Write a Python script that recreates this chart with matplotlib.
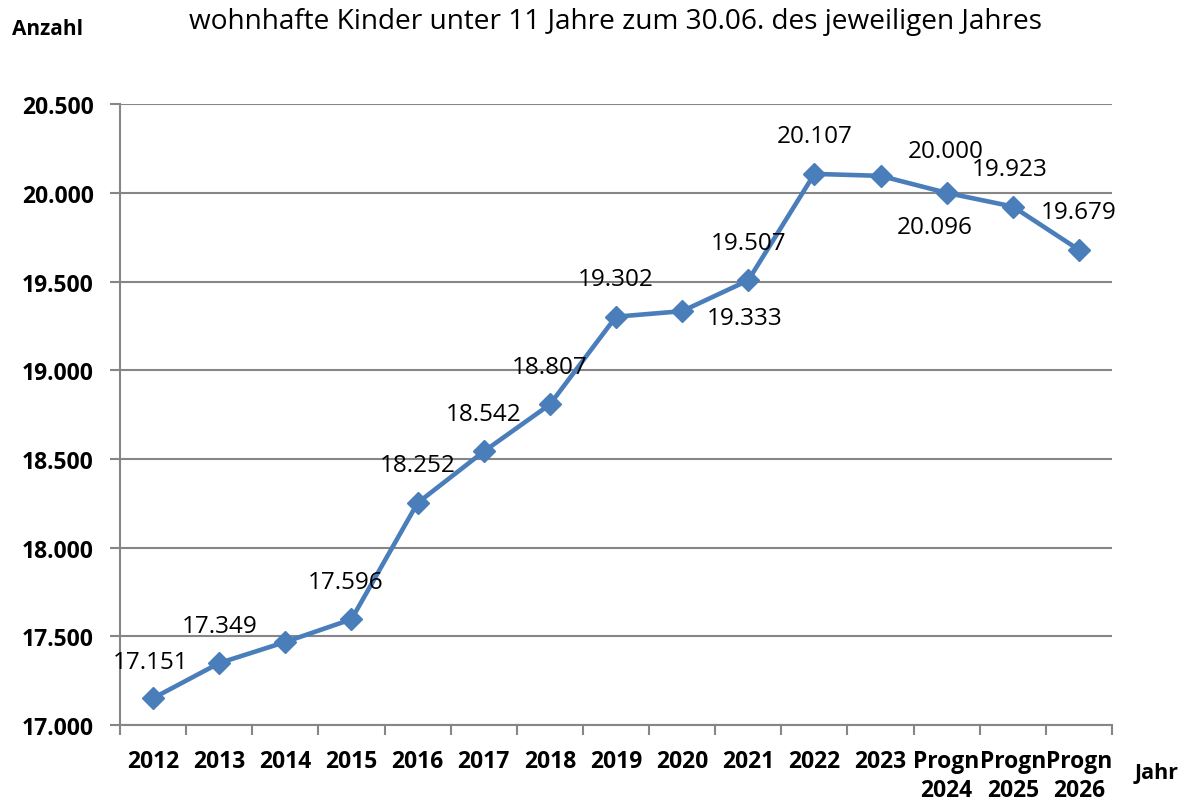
import matplotlib.pyplot as plt
from matplotlib.ticker import FixedLocator, FuncFormatter, NullFormatter

plt.rcParams["font.family"] = ["Open Sans", "DejaVu Sans"]

years = ["2012", "2013", "2014", "2015", "2016", "2017", "2018", "2019",
         "2020", "2021", "2022", "2023", "Progn\n2024", "Progn\n2025", "Progn\n2026"]
kinder = [17151, 17349, 17468, 17596, 18252, 18542, 18807, 19302,
          19333, 19507, 20107, 20096, 20000, 19923, 19679]
# label shown on the chart (2014 has none)
show_label = [True, True, False, True, True, True, True, True,
              True, True, True, True, True, True, True]
y_ticks = [17000, 17500, 18000, 18500, 19000, 19500, 20000, 20500]

# offsets in points (x, y) for the data labels
offsets = {i: (0, 27) for i in range(len(years))}
offsets[0] = (-2, 26)
offsets[3] = (-4, 27)
offsets[8] = (45, -5)
offsets[11] = (39, -37)
offsets[12] = (-1, 30)
offsets[13] = (-2, 27)


def fmt_de(v, pos=None):
    return f"{v:,.0f}".replace(",", ".")


def main():
    fig = plt.figure(figsize=(11.86, 8.03), dpi=100)
    ax = fig.add_axes([0.1012, 0.0959, 0.8364, 0.7731])

    x = list(range(len(years)))
    ax.plot(x, kinder, color="#4A7EBB", lw=3.3, marker="D", markersize=11,
            zorder=3, solid_joinstyle="round")

    for i, v in enumerate(kinder):
        if not show_label[i]:
            continue
        dx, dy = offsets[i]
        ax.annotate(fmt_de(v), (i, v), xytext=(dx, dy), textcoords="offset points",
                    ha="center", va="center", fontsize=17.5, color="black")

    ax.set_xlim(-0.5, len(years) - 0.5)
    ax.set_ylim(17000, 20500)

    ax.yaxis.set_major_locator(FixedLocator(y_ticks))
    ax.yaxis.set_major_formatter(FuncFormatter(fmt_de))
    ax.grid(axis="y", color="#868686", lw=1.5)
    ax.set_axisbelow(True)

    # category ticks on the boundaries, labels in the middle
    ax.xaxis.set_major_locator(FixedLocator([i - 0.5 for i in range(len(years) + 1)]))
    ax.xaxis.set_major_formatter(NullFormatter())
    ax.xaxis.set_minor_locator(FixedLocator(x))
    ax.set_xticklabels(years, minor=True)
    ax.tick_params(axis="x", which="major", length=7, width=1.5, color="#868686")
    ax.tick_params(axis="x", which="minor", length=0, pad=17, labelsize=16.5)
    ax.tick_params(axis="y", length=7, width=1.5, color="#868686", labelsize=16.5, pad=12)
    for lab in ax.get_xticklabels(minor=True) + ax.get_yticklabels():
        lab.set_fontweight("bold")
    for lab in ax.get_xticklabels(minor=True):
        lab.set_linespacing(1.3)

    for side in ["top", "right"]:
        ax.spines[side].set_visible(False)
    for side in ["left", "bottom"]:
        ax.spines[side].set_color("#868686")
        ax.spines[side].set_linewidth(1.5)

    fig.text(0.5186, 0.972, "wohnhafte Kinder unter 11 Jahre zum 30.06. des jeweiligen Jahres",
             ha="center", va="center", fontsize=20.2)
    fig.text(0.010, 0.963, "Anzahl", ha="left", va="center", fontsize=15, fontweight="bold")
    fig.text(0.957, 0.037, "Jahr", ha="left", va="center", fontsize=15.5, fontweight="bold")

    fig.savefig("out.png", dpi=100)


if __name__ == "__main__":
    main()
